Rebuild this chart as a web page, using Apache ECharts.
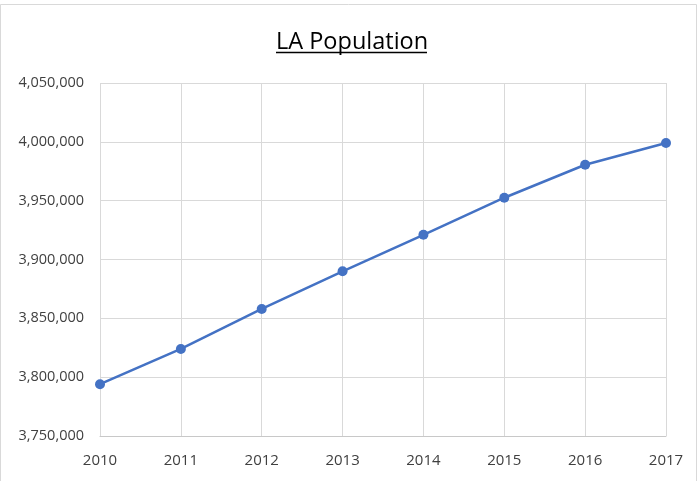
<!DOCTYPE html>
<html>
<head>
<meta charset="utf-8">
<script src="https://cdn.jsdelivr.net/npm/echarts@6/dist/echarts.min.js"></script>
<style>
html,body{margin:0;padding:0;background:#fff;}
#c{width:698px;height:481px;}
</style>
</head>
<body>
<div id="c"></div>
<script>
const years = ['2010','2011','2012','2013','2014','2015','2016','2017'];
const population = [3794000, 3824000, 3858000, 3890000, 3921000, 3952500, 3980500, 3999000];
const yTicks = {min: 3750000, max: 4050000, interval: 50000};

const chart = echarts.init(document.getElementById('c'));
const font = '"Open Sans", "Noto Sans", sans-serif';
chart.setOption({
  animation: false,
  backgroundColor: '#fff',
  title: {
    text: 'LA Population',
    left: 271,
    top: 25,
    textStyle: {fontFamily: font, fontSize: 23.5, fontWeight: 'normal', color: '#000'}
  },
  graphic: [
    {type: 'rect', shape: {x: 0.5, y: 4.5, width: 696, height: 480}, style: {fill: 'none', stroke: '#d9d9d9', lineWidth: 1}, silent: true},
    {type: 'line', shape: {x1: 276, y1: 52.5, x2: 427, y2: 52.5}, style: {stroke: '#000', lineWidth: 1.3}, silent: true}
  ],
  grid: {left: 100, right: 32, top: 83, bottom: 45},
  xAxis: {
    type: 'category',
    data: years,
    boundaryGap: false,
    axisLine: {lineStyle: {color: '#c8c8c8'}},
    axisTick: {show: false},
    axisLabel: {fontFamily: font, fontSize: 15, color: '#404040', margin: 17},
    splitLine: {show: true, lineStyle: {color: '#d9d9d9', width: 1}}
  },
  yAxis: {
    type: 'value',
    min: yTicks.min, max: yTicks.max, interval: yTicks.interval,
    axisLine: {show: false},
    axisTick: {show: false},
    axisLabel: {fontFamily: font, fontSize: 14.5, color: '#404040', margin: 16,
      formatter: v => v.toLocaleString('en-US')},
    splitLine: {lineStyle: {color: '#d9d9d9', width: 1}}
  },
  series: [{
    type: 'line',
    data: population,
    symbol: 'circle',
    symbolSize: 10,
    lineStyle: {color: '#4472C4', width: 2.5},
    itemStyle: {color: '#4472C4'}
  }]
});
</script>
</body>
</html>
